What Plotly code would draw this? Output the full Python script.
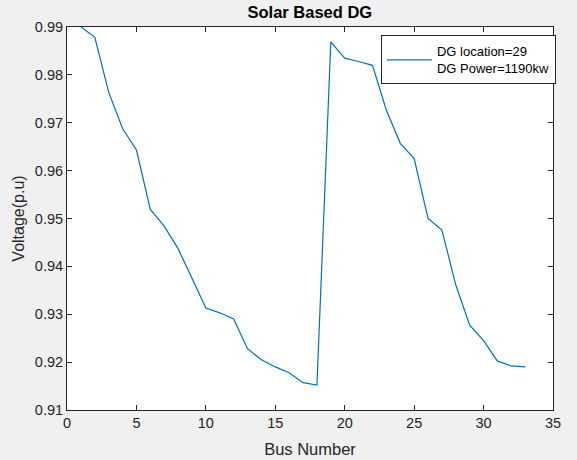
import plotly.graph_objects as go

bus = list(range(1, 34))
voltage = [0.9900, 0.9879, 0.9764, 0.9688, 0.9643, 0.9519, 0.9484, 0.9437, 0.9375, 0.9313,
           0.9303, 0.9290, 0.9228, 0.9205, 0.9190, 0.9178, 0.9157, 0.9152, 0.9869, 0.9835,
           0.9828, 0.9820, 0.9726, 0.9657, 0.9625, 0.9500, 0.9476, 0.9361, 0.9277, 0.9245,
           0.9202, 0.9192, 0.9190]
x_ticks = [0, 5, 10, 15, 20, 25, 30, 35]
y_ticks = [0.91, 0.92, 0.93, 0.94, 0.95, 0.96, 0.97, 0.98, 0.99]

FONT = "Liberation Sans, Arial"

fig = go.Figure()
fig.add_trace(go.Scatter(
    x=bus, y=voltage, mode="lines",
    line=dict(color="#0072BD", width=1.2),
    name="DG location=29<br>DG Power=1190kw",
    showlegend=True,
))

axis_common = dict(
    showline=True, linecolor="#262626", linewidth=1, mirror="ticks",
    ticks="inside", ticklen=5, tickcolor="#262626", tickwidth=1,
    showgrid=False, zeroline=False, automargin=False,
    tickfont=dict(family=FONT, size=14.5, color="#262626"),
)

fig.update_layout(
    width=577, height=460,
    paper_bgcolor="#f0f0f0", plot_bgcolor="white",
    margin=dict(l=67, r=24, t=27, b=50),
    title=dict(text="<b>Solar Based DG</b>", x=0.537, xanchor="center", y=0.973, yanchor="middle",
               font=dict(family=FONT, size=16.5, color="black")),
    xaxis=dict(range=[0, 35], tickvals=x_ticks, ticktext=[str(v) for v in x_ticks],
               title=dict(text="Bus Number", standoff=13,
                          font=dict(family=FONT, size=16.5, color="#262626")),
               **axis_common),
    yaxis=dict(range=[0.91, 0.99], tickvals=y_ticks, ticktext=[f"{v:.2f}" for v in y_ticks],
               title=dict(text="Voltage(p.u)", standoff=6,
                          font=dict(family=FONT, size=16, color="#262626")),
               **axis_common),
    legend=dict(x=1.006, xanchor="right", y=0.978, yanchor="top",
                bgcolor="white", bordercolor="#262626", borderwidth=1,
                font=dict(family=FONT, size=13, color="black"),
                tracegroupgap=0, itemwidth=45),
)

fig.write_html("out.html")
